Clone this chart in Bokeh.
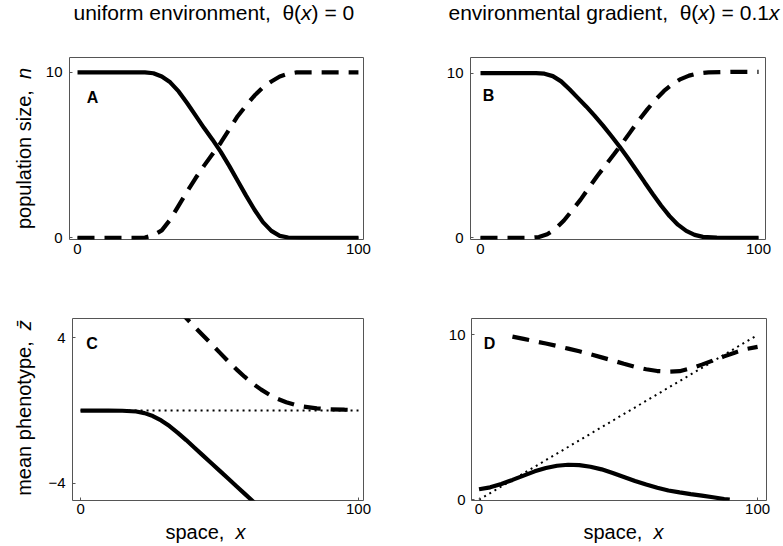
import math
from bokeh.plotting import figure
from bokeh.layouts import column, row
from bokeh.models import Range1d, FixedTicker, Label
from bokeh.embed import file_html
from bokeh.resources import INLINE

# ---------------- data ----------------
# Panel A: uniform environment, population sizes
A_solid_x = [0, 5, 10, 15, 20, 24, 27, 30, 33, 36, 39, 42, 45, 48, 51, 54, 57, 60, 63, 66, 69, 72, 75, 80, 90, 100]
A_solid_y = [10, 10, 10, 10, 10, 10, 9.95, 9.75, 9.4, 8.85, 8.15, 7.4, 6.65, 5.95, 5.2, 4.35, 3.45, 2.55, 1.7, 0.95, 0.42, 0.12, 0.02, 0, 0, 0]
A_dash_x = [0, 10, 20, 24, 27, 30, 33, 36, 39, 42, 45, 48, 51, 54, 57, 60, 63, 66, 69, 72, 75, 78, 85, 100]
A_dash_y = [0, 0, 0, 0.02, 0.15, 0.45, 1.1, 1.95, 2.8, 3.6, 4.35, 5.05, 5.75, 6.55, 7.35, 8.0, 8.6, 9.1, 9.45, 9.75, 9.92, 10, 10, 10]

# Panel B: environmental gradient, population sizes
B_solid_x = [0, 10, 20, 23, 26, 29, 32, 35, 38, 41, 44, 47, 50, 53, 56, 59, 62, 65, 68, 71, 74, 77, 80, 85, 90, 100]
B_solid_y = [10, 10, 10, 9.97, 9.82, 9.5, 9.02, 8.5, 7.98, 7.42, 6.83, 6.2, 5.55, 4.85, 4.12, 3.38, 2.65, 1.95, 1.32, 0.8, 0.42, 0.18, 0.06, 0.01, 0, 0]
B_dash_x = [0, 10, 18, 21, 24, 27, 30, 33, 36, 39, 42, 45, 48, 51, 54, 57, 60, 63, 66, 69, 72, 75, 78, 82, 90, 100]
B_dash_y = [0, 0, 0, 0.05, 0.22, 0.55, 1.05, 1.68, 2.32, 3.05, 3.75, 4.42, 5.08, 5.75, 6.45, 7.15, 7.8, 8.4, 8.92, 9.33, 9.64, 9.85, 9.98, 10.05, 10.08, 10.08]

# Panel C: uniform environment, mean phenotypes
C_solid_x = [0, 5, 10, 15, 20, 23, 26, 29, 32, 35, 38, 41, 44, 47, 50, 53, 56, 59, 62, 65]
C_solid_y = [0, 0, 0, -0.01, -0.05, -0.14, -0.3, -0.54, -0.85, -1.22, -1.62, -2.04, -2.46, -2.88, -3.3, -3.72, -4.14, -4.56, -4.98, -5.4]
C_dash_x = [35, 38, 41, 44, 47, 50, 53, 56, 59, 62, 65, 68, 71, 74, 77, 80, 85, 90, 95, 98]
C_dash_y = [5.55, 5.08, 4.61, 4.14, 3.67, 3.2, 2.73, 2.28, 1.86, 1.48, 1.15, 0.87, 0.64, 0.46, 0.32, 0.22, 0.12, 0.07, 0.05, 0.04]
C_theta_x = [0, 100]
C_theta_y = [0, 0]

# Panel D: environmental gradient, mean phenotypes
D_solid_x = [0, 4, 8, 12, 16, 20, 24, 28, 32, 36, 40, 44, 48, 52, 56, 60, 64, 68, 72, 76, 80, 84, 88, 90]
D_solid_y = [0.63, 0.75, 0.95, 1.2, 1.46, 1.72, 1.92, 2.06, 2.12, 2.1, 2.0, 1.84, 1.62, 1.38, 1.14, 0.92, 0.72, 0.56, 0.44, 0.34, 0.25, 0.15, 0.04, 0]
D_dash_x = [12, 16, 20, 24, 28, 32, 36, 40, 44, 48, 52, 56, 60, 64, 68, 72, 76, 80, 84, 88, 92, 96, 100]
D_dash_y = [9.9, 9.76, 9.62, 9.48, 9.33, 9.17, 9.01, 8.83, 8.64, 8.45, 8.25, 8.06, 7.92, 7.81, 7.77, 7.8, 7.97, 8.2, 8.45, 8.7, 8.94, 9.15, 9.28]
D_theta_x = [0, 100]
D_theta_y = [0, 10]

X_TICKS = [0, 100]
N_TICKS = [0, 10]
Z_TICKS_C = [-4, 4]
Z_TICKS_D = [0, 10]

NB = "\u00a0"
TITLE_A = [("uniform environment, " + NB + "θ(", False), ("x", True), (") = 0", False)]
TITLE_B = [("environmental gradient, " + NB + "θ(", False), ("x", True), (") = 0.1", False), ("x", True)]
YLAB_N = [("population size, " + NB, False), ("n", True)]
YLAB_Z = [("mean phenotype, " + NB, False), ("z\u0304", True)]
XLAB = [("space, " + NB, False), ("x", True)]

FONT = "Liberation Sans"

# Arial / Liberation Sans advance widths (per 1000 em)
W = {" ": 278, NB: 278, ",": 278, "(": 333, ")": 333, "=": 584, ".": 278, "0": 556, "1": 556,
     "a": 556, "b": 556, "c": 500, "d": 556, "e": 556, "f": 278, "g": 556, "h": 556,
     "i": 222, "l": 222, "m": 833, "n": 556, "o": 556, "p": 556, "r": 333, "s": 500,
     "t": 278, "u": 556, "v": 500, "x": 500, "y": 500, "z": 500, "θ": 556, "\u0304": 0}
MID = 0.3465  # distance from alphabetic baseline to the middle of the text box, in em


def tw(s, size):
    return sum(W.get(c, 556) for c in s) * size / 1000.0


def strip(width, height, y0):
    """A blank figure whose data coordinates are page pixels (y downward)."""
    p = figure(width=width, height=height, x_range=Range1d(0, width),
               y_range=Range1d(y0 + height, y0), x_axis_type=None, y_axis_type=None,
               toolbar_location=None, output_backend="svg", min_border=0)
    p.grid.visible = False
    p.outline_line_color = None
    return p


def mixed(p, parts, x, y, size, vertical=False, center=False):
    """Write a run of text parts (some italic); (x, y) is the baseline start in page px."""
    total = sum(tw(t, size) for t, _ in parts)
    if vertical:
        pos = y + (total / 2.0 if center else 0)
        cx = x - MID * size
    else:
        pos = x - (total / 2.0 if center else 0)
        cy = y - MID * size
    for t, it in parts:
        kw = dict(text=t, angle=(math.pi / 2 if vertical else 0.0),
                  text_font=FONT, text_font_size=f"{size}px", text_color="black",
                  text_font_style="italic" if it else "normal",
                  text_align="left", text_baseline="middle")
        if vertical:
            p.add_layout(Label(x=cx, y=pos, **kw))
            pos -= tw(t, size)
        else:
            p.add_layout(Label(x=pos, y=cy, **kw))
            pos += tw(t, size)


def make(width, height, borders, xr, yr, yticks, xstand, ystand, overrides=None):
    l, r, t, b = borders
    p = figure(width=width, height=height, x_range=Range1d(*xr), y_range=Range1d(*yr),
               toolbar_location=None, output_backend="svg",
               min_border_left=l, min_border_right=r, min_border_top=t, min_border_bottom=b)
    p.grid.visible = False
    p.outline_line_color = "#555555"
    p.outline_line_width = 1
    for ax, ticks, st in ((p.xaxis, X_TICKS, xstand), (p.yaxis, yticks, ystand)):
        ax.ticker = FixedTicker(ticks=ticks)
        ax.axis_line_color = None
        ax.major_tick_in = 3
        ax.major_tick_out = 0
        ax.major_tick_line_color = "#555555"
        ax.minor_tick_line_color = None
        ax.major_label_text_font = FONT
        ax.major_label_text_font_size = "15px"
        ax.major_label_text_color = "black"
        ax.major_label_standoff = st
    if overrides:
        p.yaxis.major_label_overrides = overrides
    return p


def letter(p, s, x, y):
    p.add_layout(Label(x=x, y=y, x_units="screen", y_units="screen", text=s,
                       text_font=FONT, text_font_size="16px", text_font_style="bold",
                       text_align="center", text_baseline="middle", text_color="black"))


SOLID = dict(line_color="black", line_width=4.2)
DASH = dict(line_color="black", line_width=4.2, line_dash="17 10")
DOT = dict(line_color="black", line_width=2, line_dash="2 4")

# Panel A
pA = make(364, 242, (33, 37, 19, 41), (-2.85, 101.8), (-0.1, 10.9), N_TICKS, 4, 7)
pA.line(A_solid_x, A_solid_y, **SOLID)
pA.line(A_dash_x, A_dash_y, **DASH)
letter(pA, "A", 23, 142)

# Panel B
pB = make(382, 242, (70, 17, 19, 41), (-3.6, 102.5), (-0.1, 10.95), N_TICKS, 4, 7)
pB.line(B_solid_x, B_solid_y, **SOLID)
pB.line(B_dash_x, B_dash_y, **DASH)
letter(pB, "B", 18, 144)

# Panel C
pC = make(364, 240, (36, 37, 38, 20), (-2.9, 101.8), (-4.94, 5.06), Z_TICKS_C, 3, 7,
          overrides={-4: "\u22124", 4: "4"})
pC.line(C_theta_x, C_theta_y, **DOT)
pC.line(C_solid_x, C_solid_y, **SOLID)
pC.line(C_dash_x, C_dash_y, **DASH)
letter(pC, "C", 19.5, 157)

# Panel D
pD = make(382, 240, (71, 16, 38, 20), (-2.7, 103.2), (-0.05, 11.0), Z_TICKS_D, 3, 6)
pD.line(D_theta_x, D_theta_y, **DOT)
pD.line(D_solid_x, D_solid_y, **SOLID)
pD.line(D_dash_x, D_dash_y, **DASH)
letter(pD, "D", 18, 157.5)

# Text strips (titles, axis labels) in page coordinates
top = strip(782, 38, 0)
mixed(top, TITLE_A, 73, 19.5, 21)
mixed(top, TITLE_B, 448, 19.5, 21)

left = strip(36, 482, 38)
mixed(left, YLAB_N, 30, 148, 20, vertical=True, center=True)
mixed(left, YLAB_Z, 30, 407.5, 20, vertical=True, center=True)

bottom = strip(782, 25, 520)
mixed(bottom, XLAB, 165, 538.5, 20)
mixed(bottom, XLAB, 583, 538.5, 20)

layout = column(top, row(left, column(row(pA, pB), row(pC, pD))), bottom)
open("out.html", "w").write(file_html(layout, INLINE))
